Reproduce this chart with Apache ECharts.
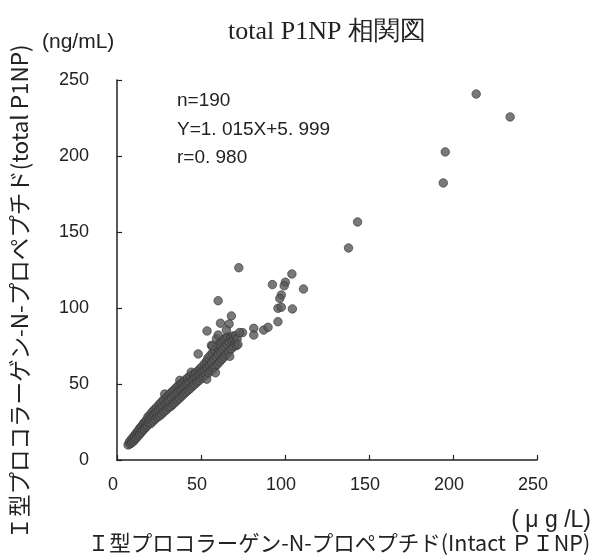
<!DOCTYPE html>
<html>
<head>
<meta charset="utf-8">
<script src="https://cdn.jsdelivr.net/npm/echarts@6/dist/echarts.min.js"></script>
<style>
html,body{margin:0;padding:0;background:#fff;}
#chart{width:595px;height:557px;}
</style>
</head>
<body>
<div id="chart"></div>
<script>
// ---- data ----
var titleText = 'total P1NP 相関図';
var yUnit = '(ng/mL)';
var xUnit = '( μ g /L)';
var xTitle = 'Ｉ型プロコラーゲン-N-プロペプチド(Intact ＰＩNP)';
var yTitle = 'Ｉ型プロコラーゲン-N-プロペプチド(total P1NP)';
var statLines = ['n=190', 'Y=1. 015X+5. 999', 'r=0. 980'];
var axisTicks = [0, 50, 100, 150, 200, 250];

// dense band (Intact PINP, total P1NP)
var bandLow = [
  [6.6,9.9],[7.3,11.8],[7.9,10.6],[8.4,13.4],[8.8,11.5],[9.5,14.8],[9.9,12.4],[10.4,16.1],
  [10.8,13.7],[11.3,17.5],[11.7,14.6],[12.2,18.6],[12.6,15.9],[13.1,20.2],[13.5,17.0],
  [14.0,21.3],[14.4,18.1],[14.9,22.6],[15.3,19.4],[15.8,24.1],[16.2,20.3],[16.7,25.0],
  [17.1,21.4],[17.6,26.3],[18.0,22.6]
];
var bandMid = [
  [18.4,28.4],[18.8,24.3],[19.3,26.7],[19.7,29.8],[20.1,23.9],[20.6,27.9],[21.0,31.7],
  [21.4,25.4],[21.9,29.6],[22.3,33.2],[22.7,26.8],[23.2,31.0],[23.6,34.6],[24.0,28.1],
  [24.5,32.4],[24.9,36.3],[25.3,29.0],[25.8,33.9],[26.2,37.8],[26.6,30.2],[27.1,35.2],
  [27.5,39.4],[27.9,31.6],[28.4,43.4],[28.6,36.8],[29.0,40.6],[29.4,32.9],[29.9,38.1],
  [30.3,42.0],[30.7,34.4],[31.2,39.5],[31.6,43.7],[32.0,35.2],[32.5,40.8],[32.9,45.1],
  [33.3,36.6],[33.8,42.3],[34.2,46.4]
];
var bandHigh = [
  [34.6,37.9],[35.1,43.5],[35.5,47.9],[35.9,39.3],[36.4,44.8],[36.8,49.2],[37.2,40.6],
  [37.4,52.4],[37.7,46.2],[38.1,50.1],[38.5,42.0],[39.0,47.4],[39.4,51.3],[39.8,43.4],
  [40.3,48.7],[40.7,52.6],[41.1,44.7],[41.6,50.1],[42.0,54.0],[42.4,45.9],[42.9,51.3],
  [43.3,55.1],[43.7,47.2],[44.2,57.8],[44.6,52.6],[45.0,48.6],[45.5,56.2],[45.9,53.4],
  [46.3,49.8],[46.8,57.3],[47.2,54.5],[47.6,51.1],[48.1,58.6],[48.3,69.8],[48.5,55.8],
  [48.9,52.3],[49.4,60.1],[49.8,57.0],[50.2,53.6],[50.7,61.4]
];
var bandTop = [
  [51.1,58.1],[51.5,54.9],[52.0,63.2],[52.4,59.5],[52.8,56.1],[53.3,65.0],[53.4,53.2],
  [53.7,60.6],[54.1,67.0],[54.6,57.4],[55.0,62.3],[55.4,68.6],[55.9,58.8],[56.2,75.4],
  [56.3,64.1],[56.7,70.4],[57.2,60.2],[57.6,66.0],[58.0,72.2],[58.5,61.6],[58.9,67.8],
  [59.2,79.8],[59.3,74.1],[59.8,63.0],[60.2,69.5],[60.6,76.0],[61.1,64.6],[61.5,71.2],
  [61.9,77.6],[62.4,66.2],[62.8,72.8],[63.2,79.0],[63.7,67.8],[64.1,74.4],[64.5,80.2],
  [65.0,69.4],[65.4,76.1],[65.8,81.0],[66.3,71.0],[66.7,77.6],[67.1,68.2],[67.6,80.4],
  [68.0,73.0],[68.4,78.2],[68.9,81.6],[69.3,74.6],[69.7,79.4],[70.2,76.6],[70.6,81.8],
  [71.0,75.2],[71.5,79.6],[72.0,76.0]
];
// scattered points above the band
var outliers = [
  [213.8,240.8],[234.0,225.7],[195.4,202.7],[194.2,182.3],[143.2,156.6],[137.8,139.5],
  [72.5,126.5],[104.1,122.4],[92.5,115.4],[100.2,117.0],[99.5,114.6],[111.0,112.5],
  [97.8,108.6],[96.9,106.3],[60.2,104.8],[95.8,99.8],[97.8,100.5],[104.4,99.4],
  [68.1,94.8],[61.6,90.0],[66.7,89.5],[65.1,85.5],[95.8,91.0],[53.6,84.9],[74.7,83.8],
  [72.9,83.8],[81.4,86.6],[81.4,82.2],[87.3,85.5],[89.9,87.3],[60.2,82.2],[56.8,75.0],
  [58.6,57.4]
];

var points = bandLow.concat(bandMid, bandHigh, bandTop, outliers);

var chart = echarts.init(document.getElementById('chart'), null, {renderer: 'canvas'});
var sans = '"Liberation Sans", Arial, "Noto Sans CJK JP", sans-serif';
var jp = '"Noto Sans CJK JP", "Liberation Sans", sans-serif';

function axisCommon() {
  return {
    type: 'value',
    min: axisTicks[0],
    max: axisTicks[axisTicks.length - 1],
    interval: axisTicks[1] - axisTicks[0],
    splitLine: {show: false},
    axisLine: {show: true, onZero: false, lineStyle: {color: '#222', width: 1.5}},
    axisTick: {show: true, inside: true, length: 5, lineStyle: {color: '#222', width: 1.2}},
    axisLabel: {color: '#222', fontSize: 18, fontFamily: sans}
  };
}
var xAx = axisCommon();
xAx.axisLabel.margin = 16;
xAx.axisLabel.padding = [0, 8, 0, 0];
var yAx = axisCommon();
yAx.axisLabel.margin = 28;

chart.setOption({
  backgroundColor: '#ffffff',
  animation: false,
  grid: {left: 117, right: 58, top: 80, bottom: 97, containLabel: false},
  xAxis: xAx,
  yAxis: yAx,
  series: [{
    type: 'scatter',
    data: points,
    symbol: 'circle',
    symbolSize: 8.5,
    itemStyle: {color: '#585858', borderColor: '#333', borderWidth: 0.8}
  }],
  graphic: [
    {type: 'text', x: 327, y: 32,
     style: {text: titleText, fontSize: 26, fontFamily: '"Liberation Serif", "DejaVu Serif", serif', fill: '#222', align: 'center', verticalAlign: 'middle'}},
    {type: 'text', x: 42, y: 42,
     style: {text: yUnit, fontSize: 21, fontFamily: sans, fill: '#222', verticalAlign: 'middle', letterSpacing: 2}},
    {type: 'text', left: 177, top: 87,
     style: {text: statLines.join('\n'), fontSize: 19, lineHeight: 28.5, fontFamily: sans, fill: '#222'}},
    {type: 'text', x: 591, y: 521,
     style: {text: xUnit, fontSize: 23, fontFamily: sans, fill: '#222', align: 'right', verticalAlign: 'middle'}},
    {type: 'text', x: 339, y: 543,
     style: {text: xTitle, fontSize: 21.5, fontFamily: jp, fill: '#222', align: 'center', verticalAlign: 'middle'}},
    {type: 'text', x: 19, y: 292, rotation: Math.PI / 2,
     style: {text: yTitle, fontSize: 22.5, fontFamily: jp, fill: '#222', align: 'center', verticalAlign: 'middle'}}
  ]
});
</script>
</body>
</html>
